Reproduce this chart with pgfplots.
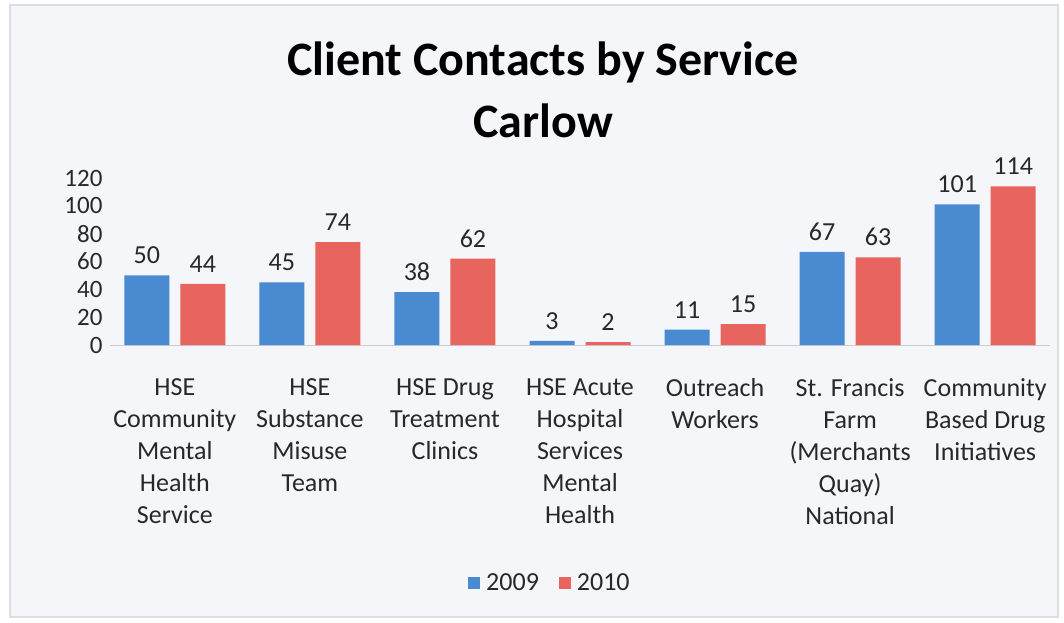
\documentclass[border=0pt]{standalone}
\usepackage{pgfplots}
\pgfplotsset{compat=1.18}
\usepackage{fontspec}
\setmainfont{Carlito}

\definecolor{barblue}{RGB}{74,138,208}
\definecolor{barred}{RGB}{232,100,94}
\definecolor{bgfill}{RGB}{245,246,250}
\definecolor{frame}{RGB}{220,222,228}
\definecolor{txt}{RGB}{40,40,40}

\begin{document}
\begin{tikzpicture}
% page: axis box south west sits at pixel (110,345) of a 1064x622 picture
\useasboundingbox (-110pt,-277pt) rectangle (954pt,345pt);
\fill[white] (-110pt,-277pt) rectangle (954pt,345pt);
\filldraw[fill=bgfill, draw=frame, line width=2pt] (-100pt,-272pt) rectangle (948pt,340pt);

\node[font=\fontsize{48}{48}\selectfont\bfseries, text=black] at (433pt,283pt) {Client Contacts by Service};
\node[font=\fontsize{48}{48}\selectfont\bfseries, text=black] at (433pt,224pt) {Carlow};

\begin{axis}[
  scale only axis,
  width=940pt, height=167pt,
  ymin=0, ymax=120,
  xmin=-0.48, xmax=6.48,
  ybar=11pt, bar width=45pt,
  axis line style={draw=none},
  axis x line*=bottom,
  axis y line*=left,
  ytick={0,20,...,120},
  xtick=data,
  xticklabels={
    {HSE\\Community\\Mental\\Health\\Service},
    {HSE\\Substance\\Misuse\\Team},
    {HSE Drug\\Treatment\\Clinics},
    {HSE Acute\\Hospital\\Services\\Mental\\Health},
    {Outreach\\Workers},
    {St. Francis\\Farm\\(Merchants\\Quay)\\National},
    {Community\\Based Drug\\Initiatives}},
  x tick label style={align=center, font=\fontsize{26}{32}\selectfont, text=txt, yshift=-30pt},
  y tick label style={font=\fontsize{25}{25}\selectfont, text=txt, xshift=-4pt},
  /pgf/number format/assume math mode=true,
  major tick length=0pt,
  nodes near coords,
  every node near coord/.append style={font=\fontsize{26}{26}\selectfont, text=txt, yshift=8pt},
  legend style={at={(0.468,-1.425)}, anchor=center, legend columns=2, draw=none, fill=none,
    font=\fontsize{26}{26}\selectfont, text=txt,
    /tikz/every odd column/.append style={column sep=4pt},
    /tikz/every even column/.append style={column sep=18pt}},
  legend image code/.code={\fill[#1] (0pt,-6pt) rectangle (12pt,6pt);},
  clip=false,
]
\draw[gray!40, line width=1pt] (rel axis cs:0,0) -- (rel axis cs:1,0);
\addplot[fill=barblue, draw=none] coordinates {(0,50) (1,45) (2,38) (3,3) (4,11) (5,67) (6,101)};
\addplot[fill=barred, draw=none] coordinates {(0,44) (1,74) (2,62) (3,2) (4,15) (5,63) (6,114)};
\legend{2009,2010}
\end{axis}
\end{tikzpicture}
\end{document}
